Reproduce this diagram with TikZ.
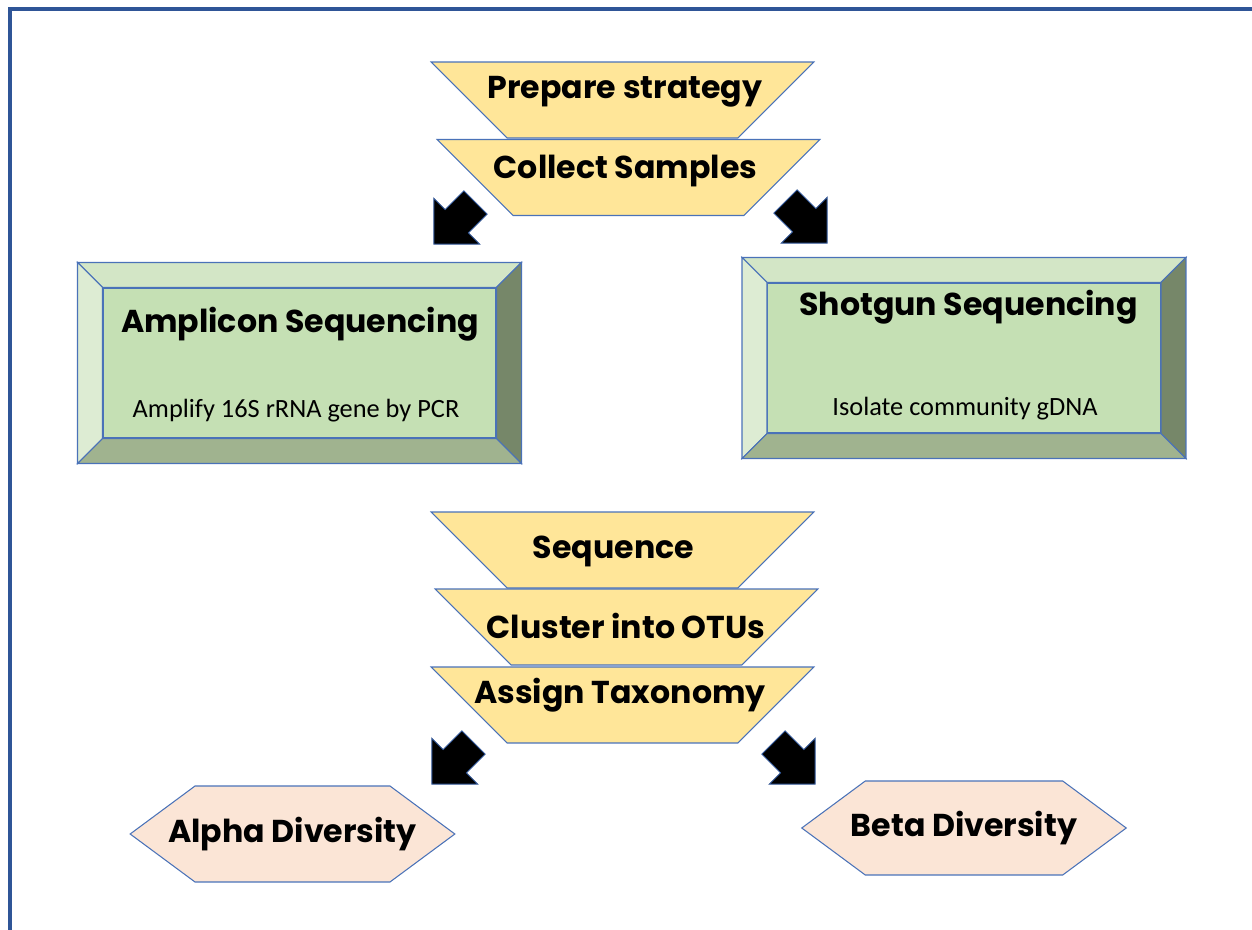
\documentclass[tikz,border=0pt]{standalone}
\usepackage{fontspec}
\setsansfont{Poppins}
\newfontfamily\notefont{Carlito}
\usepackage{tikz}
\usetikzlibrary{shapes.geometric,shapes.arrows,shapes.symbols,calc,positioning}
\definecolor{FrameBlue}{HTML}{2F5597}
\definecolor{EdgeBlue}{HTML}{4A72B8}
\definecolor{StepYellow}{HTML}{FFE699}
\definecolor{FaceGreen}{HTML}{C5E0B4}
\definecolor{BevTop}{HTML}{D3E6C6}
\definecolor{BevLeft}{HTML}{DDECD3}
\definecolor{BevRight}{HTML}{768769}
\definecolor{BevBottom}{HTML}{A0B38F}
\definecolor{HexPeach}{HTML}{FBE5D6}

% bevelled frame around a face node: #1 node, #2 bevel depth
\newcommand\bevelframe[2]{%
  \filldraw[bevel, fill=BevTop] ($(#1.north west)+(-#2,-#2)$) -- ($(#1.north east)+(#2,-#2)$) -- (#1.north east) -- (#1.north west) -- cycle;
  \filldraw[bevel, fill=BevLeft] ($(#1.north west)+(-#2,-#2)$) -- (#1.north west) -- (#1.south west) -- ($(#1.south west)+(-#2,#2)$) -- cycle;
  \filldraw[bevel, fill=BevRight] ($(#1.north east)+(#2,-#2)$) -- (#1.north east) -- (#1.south east) -- ($(#1.south east)+(#2,#2)$) -- cycle;
  \filldraw[bevel, fill=BevBottom] ($(#1.south west)+(-#2,#2)$) -- (#1.south west) -- (#1.south east) -- ($(#1.south east)+(#2,#2)$) -- cycle;
}

\begin{document}
\begin{tikzpicture}[
  x=0.02cm, y=-0.02cm,
  funnel/.style={trapezium, trapezium angle=45, shape border rotate=180,
    inner xsep=2.31cm, inner ysep=0.76cm, fill=StepYellow, draw=EdgeBlue, line width=0.6pt},
  face/.style={rectangle, fill=FaceGreen, draw=EdgeBlue, line width=0.6pt, minimum width=7.86cm, minimum height=3cm},
  bevel/.style={draw=EdgeBlue, line width=0.6pt},
  hexa/.style={signal, signal to=west and east, signal pointer angle=73, minimum height=1.92cm,
    inner sep=0pt, fill=HexPeach, draw=EdgeBlue, line width=0.6pt, font=\sffamily\bfseries\fontsize{18}{20}\selectfont},
  blockarrow/.style={single arrow, single arrow tip angle=90, single arrow head extend=0.32cm, inner sep=0.32cm,
    minimum height=1.18cm, fill=black, draw=FrameBlue, line width=0.5pt},
  headtxt/.style={font=\sffamily\bfseries\fontsize{18}{20}\selectfont, inner sep=0pt, anchor=base},
  notetxt/.style={font=\notefont\fontsize{15}{18}\selectfont, inner sep=0pt, anchor=base},
  frame/.style={draw=FrameBlue, line width=0.08cm}
]
  \useasboundingbox (0,0) rectangle (1252,930);
  \draw[frame] (10,930) |- (1252,8.5);

  \node[funnel] (prepare) at (622.5,100) {};
  \node[funnel] (collect) at (628.5,177.5) {};
  \node[headtxt] (prepareTxt) at (625,98) {Prepare strategy};
  \node[headtxt] (collectTxt) at (625.5,178) {Collect Samples};

  \node[blockarrow, rotate=-135] (toAmplicon) at (460.5,217.5) {};
  \node[blockarrow, rotate=-45] (toShotgun) at (800.5,216.5) {};

  \node[face] (amplicon) at (299.5,363) {};
  \bevelframe{amplicon}{25}
  \node[headtxt] (ampliconTxt) at (300,332) {Amplicon Sequencing};
  \node[notetxt] (ampliconNote) at (296,417) {Amplify 16S rRNA gene by PCR};

  \node[face] (shotgun) at (964,358) {};
  \bevelframe{shotgun}{25}
  \node[headtxt] (shotgunTxt) at (968.5,315) {Shotgun Sequencing};
  \node[notetxt] (shotgunNote) at (965,415) {Isolate community gDNA};

  \node[funnel] (sequence) at (622.5,550) {};
  \node[funnel] (cluster) at (626.5,627) {};
  \node[funnel] (assign) at (622.5,705) {};
  \node[headtxt] (sequenceTxt) at (613.5,558) {Sequence};
  \node[headtxt] (clusterTxt) at (626,638) {Cluster into OTUs};
  \node[headtxt] (assignTxt) at (620,703) {Assign Taxonomy};

  \node[blockarrow, rotate=-135] (toAlpha) at (458.5,757.5) {};
  \node[blockarrow, rotate=-45] (toBeta) at (788.5,757.5) {};

  \node[hexa] (alpha) at (292.5,834) {\makebox[3.9cm]{Alpha Diversity}};
  \node[hexa, minimum height=1.88cm] (beta) at (964,828) {\makebox[3.95cm]{Beta Diversity}};
\end{tikzpicture}
\end{document}
